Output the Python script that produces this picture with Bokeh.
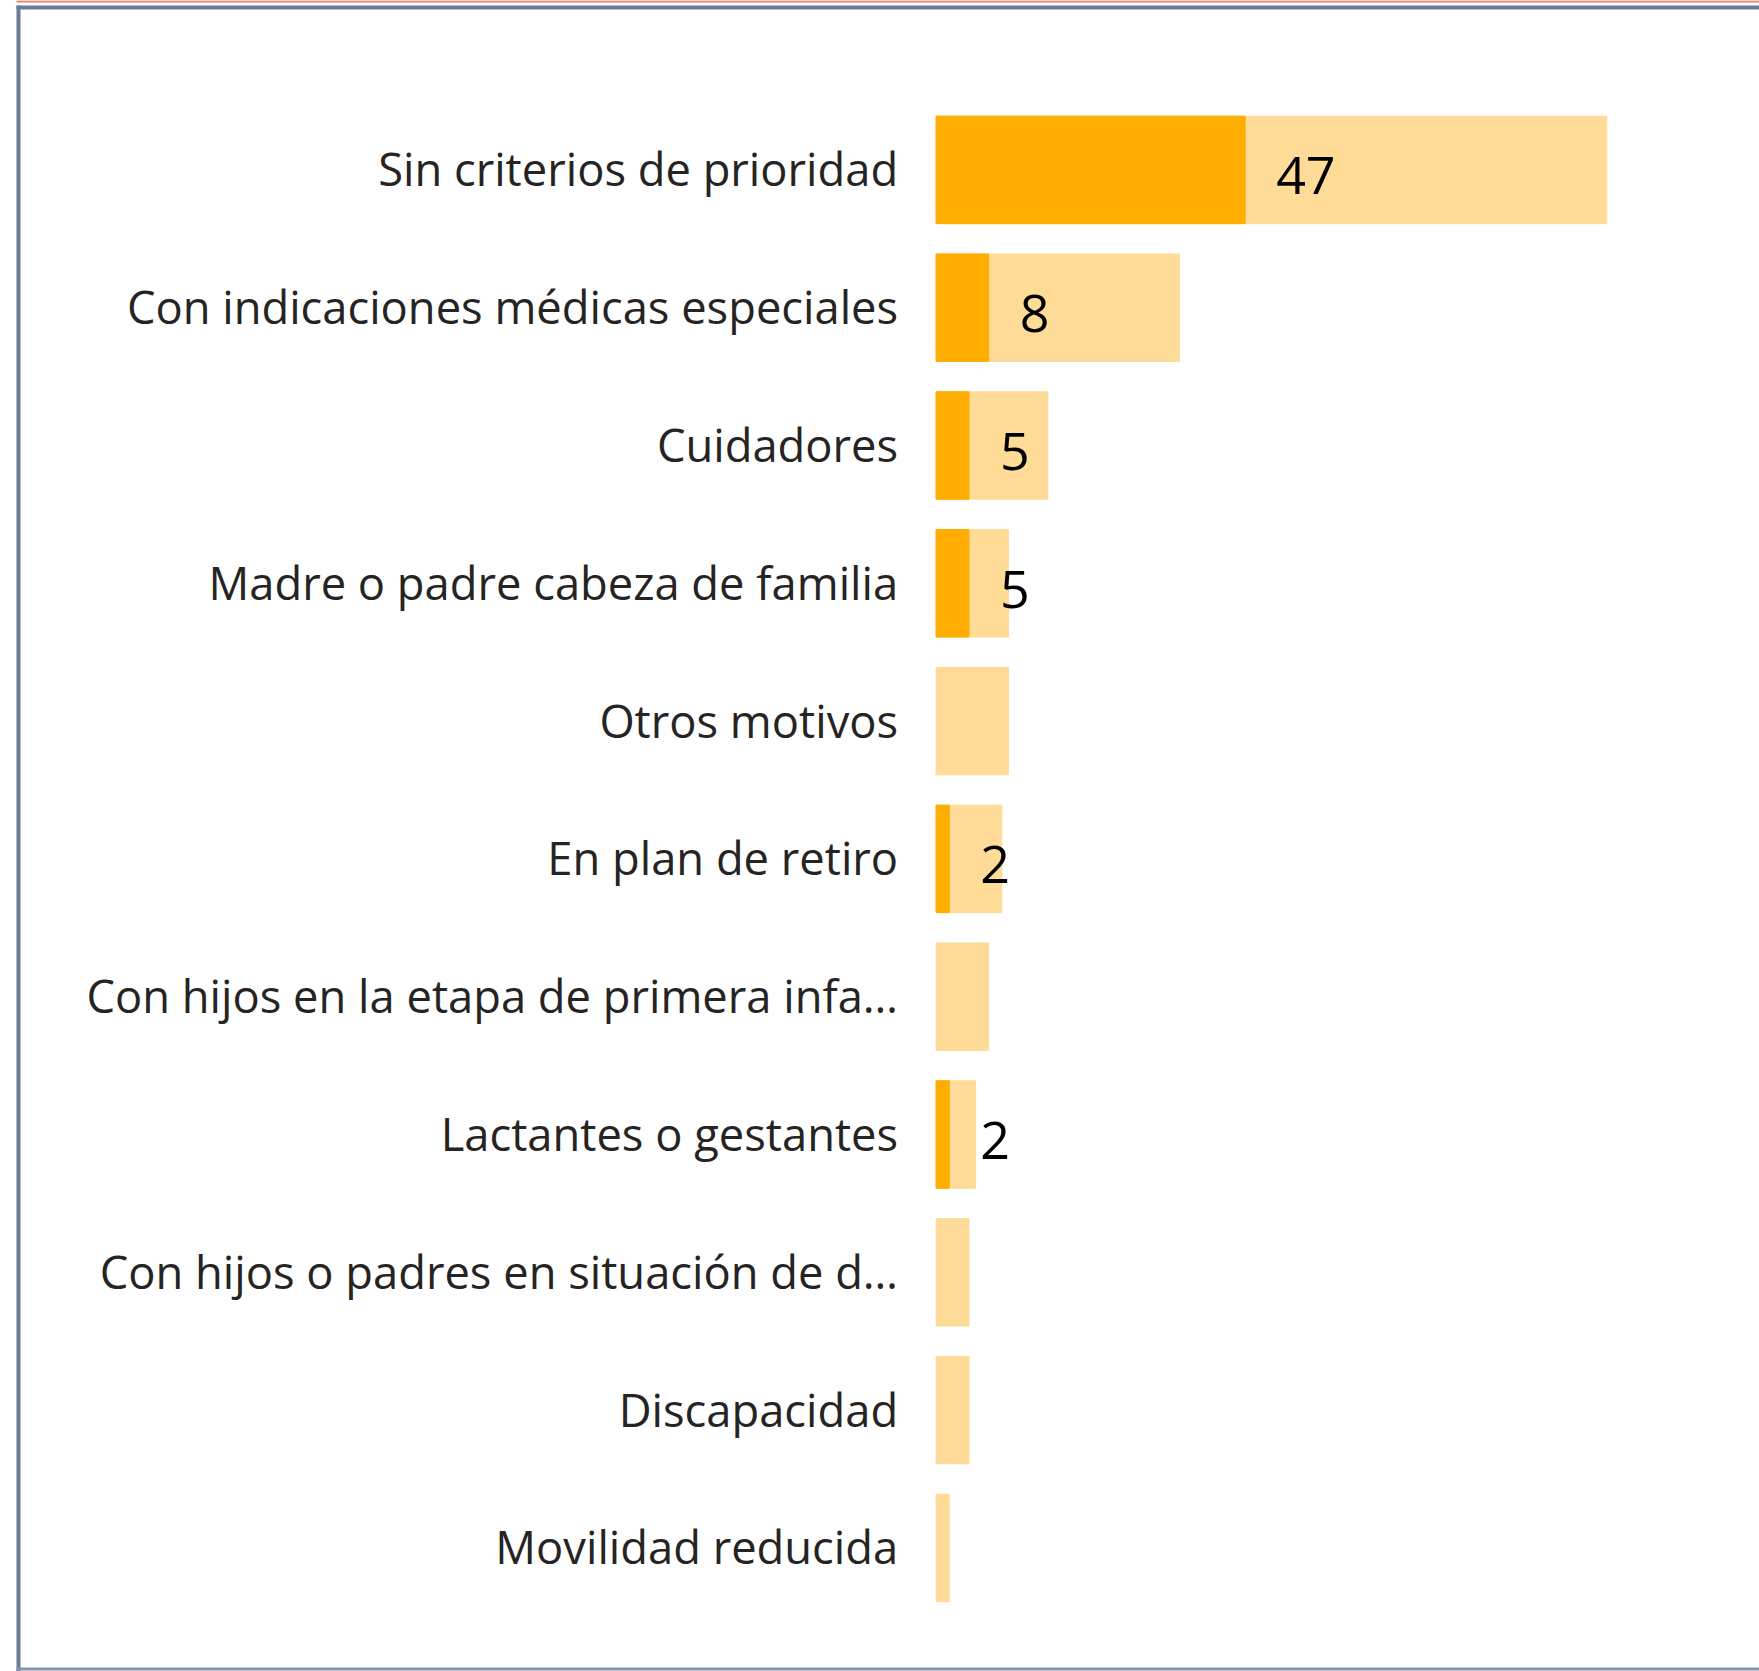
from bokeh.plotting import figure
from bokeh.models import Range1d, ColumnDataSource
from bokeh.core.properties import value
from bokeh.embed import file_html
from bokeh.resources import INLINE

# ---- data ----
categories = [
    "Sin criterios de prioridad",
    "Con indicaciones médicas especiales",
    "Cuidadores",
    "Madre o padre cabeza de familia",
    "Otros motivos",
    "En plan de retiro",
    "Con hijos en la etapa de primera infa…",
    "Lactantes o gestantes",
    "Con hijos o padres en situación de d…",
    "Discapacidad",
    "Movilidad reducida",
]
total_values = [102, 37, 17, 11, 11, 10, 8, 6, 5, 5, 2]
highlight_values = [47, 8, 5, 5, 0, 2, 0, 2, 0, 0, 0]

# ---- styles ----
LIGHT = "#FFDB98"
DARK = "#FFAD00"
TEXT = "#252423"
BORDER = "#6B7A99"
RED = "#F47D6B"

W, H = 1759, 1671
PX_X = 6.575          # pixels per unit on x
PX_Y = 137.8          # pixels per category row
ZERO_X = 935.6        # canvas x of value 0
FIRST_Y = 169.4       # canvas y of first row centre

x_start = -ZERO_X / PX_X
x_end = x_start + W / PX_X
y_top = -FIRST_Y / PX_Y
y_bottom = y_top + H / PX_Y

pos = list(range(len(categories)))
src = ColumnDataSource(dict(pos=pos, cat=categories, total=total_values))

hl_idx = [i for i, v in enumerate(highlight_values) if v > 0]
hl_src = ColumnDataSource(dict(
    pos=[pos[i] for i in hl_idx],
    sub=[highlight_values[i] for i in hl_idx],
    lbl=[str(highlight_values[i]) for i in hl_idx],
))

p = figure(width=W, height=H, x_range=Range1d(x_start, x_end), y_range=Range1d(y_bottom, y_top),
           output_backend="svg", toolbar_location=None, min_border=0,
           x_axis_type=None, y_axis_type=None)
p.grid.visible = False
p.outline_line_color = None
p.background_fill_color = "white"
p.border_fill_color = "white"

p.hbar(y="pos", left=0, right="total", height=0.78, color=LIGHT, source=src)
p.hbar(y="pos", left=0, right="sub", height=0.78, color=DARK, source=hl_src)

p.text(x=0, y="pos", text="cat", x_offset=-38, y_offset=-1, text_align="right", text_baseline="middle",
       text_font=value("Open Sans"), text_font_size="45.3px", text_color=TEXT, source=src)
p.text(x="sub", y="pos", text="lbl", x_offset=31, y_offset=6, text_align="left", text_baseline="middle",
       text_font=value("Open Sans"), text_font_size="52px", text_color="black", source=hl_src)

# frame lines
p.segment(x0=[x_start + 16 / PX_X], x1=[x_end], y0=[y_top + 1 / PX_Y], y1=[y_top + 1 / PX_Y],
          line_color=RED, line_width=2)
p.segment(x0=[x_start + 16 / PX_X], x1=[x_end], y0=[y_top + 7 / PX_Y], y1=[y_top + 7 / PX_Y],
          line_color=BORDER, line_width=4)
p.segment(x0=[x_start + 18 / PX_X], x1=[x_start + 18 / PX_X], y0=[y_top + 5 / PX_Y], y1=[y_bottom],
          line_color=BORDER, line_width=4)
p.segment(x0=[x_start + 16 / PX_X], x1=[x_end], y0=[y_top + (H - 2.5) / PX_Y], y1=[y_top + (H - 2.5) / PX_Y],
          line_color="#8592AC", line_width=3)

open("out.html", "w").write(file_html(p, INLINE))
